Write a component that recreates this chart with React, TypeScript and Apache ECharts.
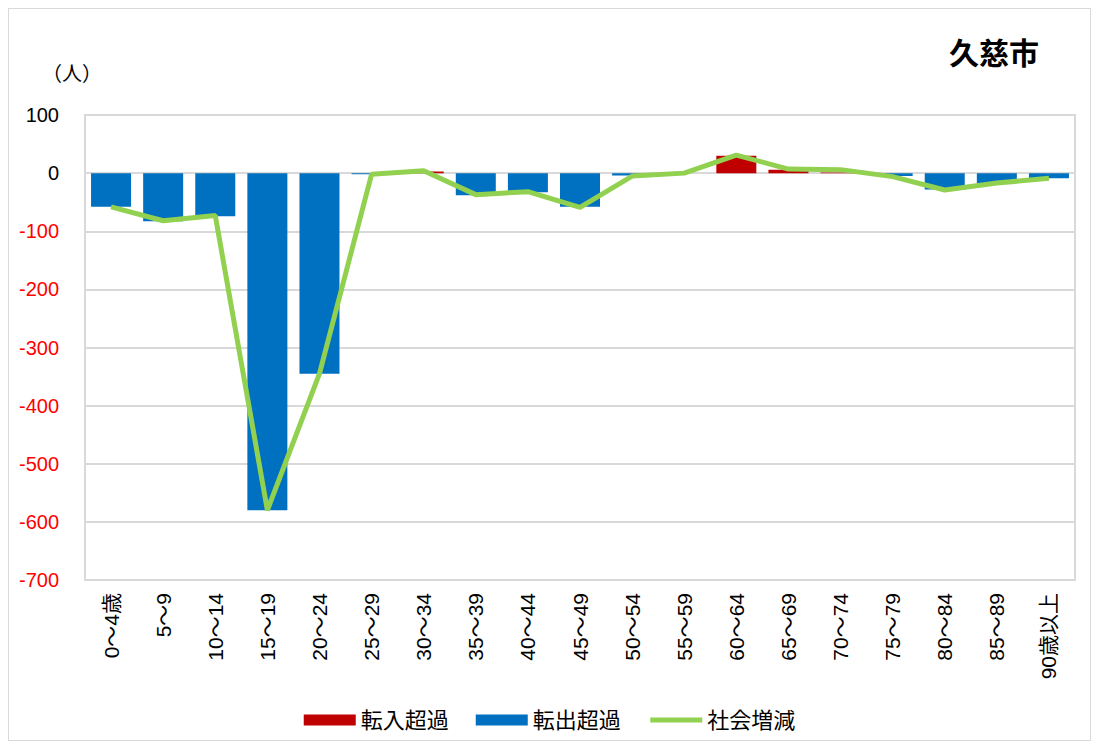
import React, { useEffect, useRef } from "react";
import * as echarts from "echarts";

const categories = [
  "0～4歳", "5～9", "10～14", "15～19", "20～24", "25～29", "30～34", "35～39",
  "40～44", "45～49", "50～54", "55～59", "60～64", "65～69", "70～74", "75～79",
  "80～84", "85～89", "90歳以上",
];
const inExcess = [null, null, null, null, null, null, 3, null, null, null, null, null, 30, 6, 1, null, null, null, null];
const outExcess = [-58, -83, -74, -580, -345, -2, null, -38, -33, -58, -4, null, null, null, null, -5, -28, -17, -9];
const socialChange = [-58, -82, -73, -580, -345, -2, 4, -37, -32, -59, -5, 0, 31, 7, 6, -6, -29, -17, -9];
const yTicks = { min: -700, max: 100, interval: 100 };

const FONT = "'Liberation Sans', Arial, 'Noto Sans CJK JP', sans-serif";

export default function App() {
  const ref = useRef<HTMLDivElement>(null);
  useEffect(() => {
    if (!ref.current) return;
    const chart = echarts.init(ref.current, undefined, { renderer: "svg" });
    chart.setOption({
      animation: false,
      backgroundColor: "#ffffff",
      textStyle: { fontFamily: FONT },
      title: {
        text: "久慈市",
        left: 980,
        top: 24,
        textAlign: "center",
        textStyle: { fontSize: 30, fontWeight: "bold", color: "#000", fontFamily: FONT },
      },
      graphic: [
        {
          type: "text",
          left: 33,
          top: 55,
          style: { text: "（人）", fontSize: 20, fill: "#000", fontFamily: FONT },
        },
      ],
      legend: {
        left: "center",
        top: 695,
        itemWidth: 52,
        itemHeight: 11,
        itemGap: 27,
        textStyle: { fontSize: 22, color: "#000", fontFamily: FONT },
        data: [
          { name: "転入超過", icon: "rect" },
          { name: "転出超過", icon: "rect" },
          {
            name: "社会増減",
            itemStyle: { opacity: 0 },
            lineStyle: { width: 5, color: "#92d050", opacity: 1 },
          },
        ],
      },
      grid: {
        left: 76,
        right: 15,
        top: 106,
        bottom: 160,
        show: true,
        borderColor: "#d9d9d9",
        borderWidth: 2,
      },
      xAxis: {
        type: "category",
        data: categories,
        axisLine: { show: false },
        axisTick: { show: false },
        axisLabel: {
          rotate: 90,
          interval: 0,
          margin: 13,
          fontSize: 21,
          color: "#000",
          fontFamily: FONT,
        },
      },
      yAxis: {
        type: "value",
        min: yTicks.min,
        max: yTicks.max,
        interval: yTicks.interval,
        axisLine: { show: true, lineStyle: { color: "#d9d9d9", width: 2 } },
        axisTick: { show: false },
        splitLine: { lineStyle: { color: "#d9d9d9", width: 2 } },
        axisLabel: {
          margin: 26,
          fontSize: 20,
          fontFamily: FONT,
          color: (v: any) => (Number(v) < 0 ? "#ff0000" : "#000000"),
        },
      },
      series: [
        {
          name: "転入超過",
          type: "bar",
          data: inExcess,
          barWidth: 40,
          barGap: "-100%",
          itemStyle: { color: "#c00000" },
        },
        {
          name: "転出超過",
          type: "bar",
          data: outExcess,
          barWidth: 40,
          barGap: "-100%",
          itemStyle: { color: "#0070c0" },
        },
        {
          name: "社会増減",
          type: "line",
          data: socialChange,
          symbol: "none",
          showSymbol: false,
          z: 5,
          lineStyle: { color: "#92d050", width: 5 },
          itemStyle: { color: "#92d050" },
        },
      ],
    });
    return () => chart.dispose();
  }, []);
  return (
    <div
      ref={ref}
      style={{
        width: 1083,
        height: 733,
        border: "1px solid #d9d9d9",
        boxSizing: "border-box",
      }}
    />
  );
}
